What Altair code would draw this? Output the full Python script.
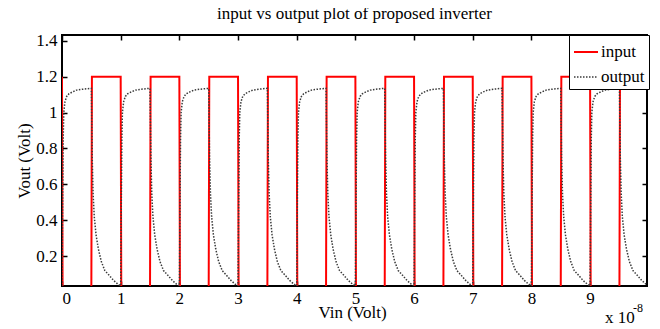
import altair as alt
import pandas as pd

FONT = "Liberation Serif"
TITLE = "input vs output plot of proposed inverter"
X_TITLE = "Vin (Volt)"
Y_TITLE = "Vout (Volt)"
SERIES = ["input", "output"]
X_TICKS = [0, 1, 2, 3, 4, 5, 6, 7, 8, 9]
Y_TICKS = [0.2, 0.4, 0.6, 0.8, 1.0, 1.2, 1.4]
X_DOMAIN = [0, 9.97]
Y_DOMAIN = [0.034, 1.432]
EXP_TEXT = ["x 10", "-8"]

# input square wave (time in units of 1e-8 s)
IN_T = [0.0, 0.01, 0.5, 0.51, 1.0, 1.01, 1.5, 1.51, 2.0, 2.01, 2.5, 2.51,
        3.0, 3.01, 3.5, 3.51, 4.0, 4.01, 4.5, 4.51, 5.0, 5.01, 5.5, 5.51,
        6.0, 6.01, 6.5, 6.51, 7.0, 7.01, 7.5, 7.51, 8.0, 8.01, 8.5, 8.51,
        9.0, 9.01, 9.5, 9.51, 9.97]
IN_V = [1.2, 0.0, 0.0, 1.2, 1.2, 0.0, 0.0, 1.2, 1.2, 0.0, 0.0, 1.2,
        1.2, 0.0, 0.0, 1.2, 1.2, 0.0, 0.0, 1.2, 1.2, 0.0, 0.0, 1.2,
        1.2, 0.0, 0.0, 1.2, 1.2, 0.0, 0.0, 1.2, 1.2, 0.0, 0.0, 1.2,
        1.2, 0.0, 0.0, 1.2, 1.2]

# output waveform shape within one period, repeated each period
CYCLE_STARTS = [0, 1, 2, 3, 4, 5, 6, 7, 8, 9]
OUT_OFF = [0.0, 0.01, 0.02, 0.03, 0.05, 0.08, 0.12, 0.18, 0.25, 0.35, 0.5,
           0.505, 0.515, 0.53, 0.55, 0.58, 0.62, 0.67, 0.73, 0.8, 0.88, 0.95, 0.999]
OUT_V = [0.035, 0.45, 0.85, 1.0, 1.06, 1.09, 1.105, 1.115, 1.125, 1.13, 1.135,
         1.0, 0.75, 0.55, 0.42, 0.32, 0.24, 0.17, 0.12, 0.095, 0.065, 0.045, 0.035]

rows = [{"t": t, "v": v, "series": "input"} for t, v in zip(IN_T, IN_V)]
for k in CYCLE_STARTS:
    for off, v in zip(OUT_OFF, OUT_V):
        rows.append({"t": k + off, "v": v, "series": "output"})
df = pd.DataFrame(rows)

xs = alt.Scale(domain=X_DOMAIN, nice=False, zero=False)
ys = alt.Scale(domain=Y_DOMAIN, nice=False, zero=False)

legend = alt.Legend(
    title=None, orient="none", legendX=507, legendY=0,
    strokeColor="black", fillColor="white", padding=4,
    symbolType="stroke", symbolSize=576, symbolStrokeWidth=2,
    labelFont=FONT, labelFontSize=17, labelOffset=2, rowPadding=4,
    labelColor="black",
)

main = alt.Chart(df).mark_line(clip=True).encode(
    x=alt.X("t:Q", scale=xs, axis=alt.Axis(
        orient="bottom", values=X_TICKS, format="d", offset=-5, tickSize=5,
        labelPadding=4, title=X_TITLE, titleBaseline="alphabetic",
        titleY=36, titleX=290)),
    y=alt.Y("v:Q", scale=ys, axis=alt.Axis(
        orient="left", values=Y_TICKS, format="~g", offset=-5, tickSize=5,
        labelPadding=5, title=Y_TITLE, titleBaseline="alphabetic",
        titleX=-38)),
    color=alt.Color("series:N", scale=alt.Scale(domain=SERIES, range=["#ff0000", "#3a3a3a"]), legend=legend),
    strokeDash=alt.StrokeDash("series:N", scale=alt.Scale(domain=SERIES, range=[[1, 0], [1.5, 1.5]]), legend=legend),
    strokeWidth=alt.StrokeWidth("series:N", scale=alt.Scale(domain=SERIES, range=[2, 1.5]), legend=None),
)

mirror = alt.Chart(df).mark_line(opacity=0, clip=True).encode(
    x=alt.X("t:Q", scale=xs, axis=alt.Axis(
        orient="top", values=X_TICKS, offset=-5, tickSize=5, labels=False, title=None)),
    y=alt.Y("v:Q", scale=ys, axis=alt.Axis(
        orient="right", values=Y_TICKS, offset=-5, tickSize=5, labels=False, title=None)),
)

one = alt.Data(values=[{"a": 1}])
exp_base = alt.Chart(one).mark_text(
    font=FONT, fontSize=17, align="left", baseline="alphabetic", color="black"
).encode(x=alt.value(543), y=alt.value(288), text=alt.value(EXP_TEXT[0]))
exp_sup = alt.Chart(one).mark_text(
    font=FONT, fontSize=12, align="left", baseline="alphabetic", color="black"
).encode(x=alt.value(571), y=alt.value(277), text=alt.value(EXP_TEXT[1]))

chart = alt.layer(main, mirror, exp_base, exp_sup).resolve_axis(
    x="independent", y="independent"
).properties(
    width=585, height=251,
    title=alt.TitleParams(TITLE, font=FONT, fontSize=17, fontWeight="normal",
                          anchor="middle", baseline="alphabetic", offset=-4,
                          color="black"),
    autosize=alt.AutoSizeParams(type="none"),
    padding={"left": 54, "top": 27, "right": 5, "bottom": 43},
).configure_axis(
    labelFont=FONT, labelFontSize=17, labelColor="black",
    titleFont=FONT, titleFontSize=17, titleFontWeight="normal", titleColor="black",
    tickColor="black", tickWidth=1.5, domain=False, grid=False,
).configure_view(stroke="black", strokeWidth=2)

chart.save("out.html", embed_options={"renderer": "svg", "actions": False})
